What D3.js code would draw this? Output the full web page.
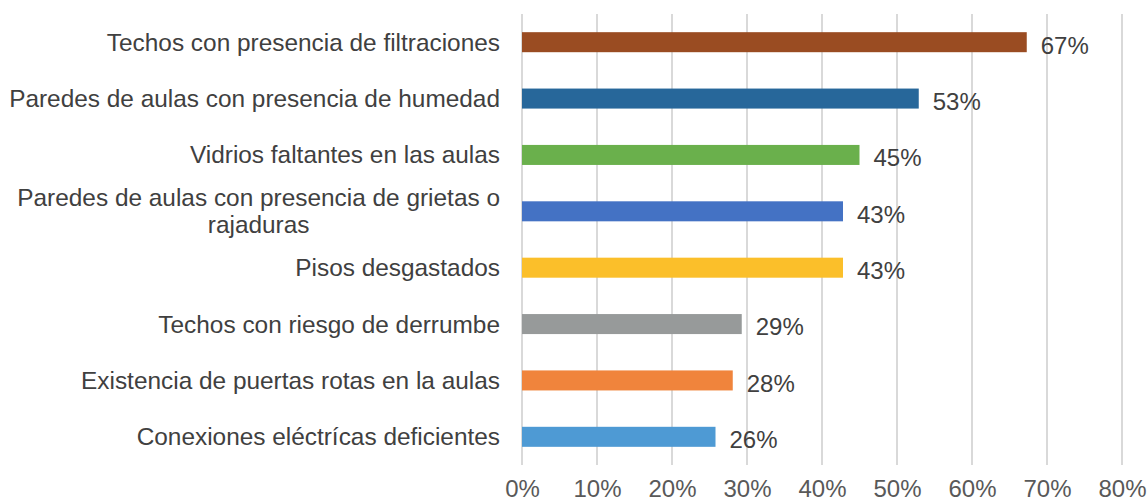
<!DOCTYPE html>
<html><head><meta charset="utf-8">
<script src="https://cdn.jsdelivr.net/npm/d3@7"></script>
<style>body{margin:0;background:#fff}svg{display:block;font-family:"Liberation Sans",Arial,sans-serif}</style>
</head><body><svg id="c" width="1148" height="503"></svg>
<script>
const categories = [
  ["Techos con presencia de filtraciones"],
  ["Paredes de aulas con presencia de humedad"],
  ["Vidrios faltantes en las aulas"],
  ["Paredes de aulas con presencia de grietas o","rajaduras"],
  ["Pisos desgastados"],
  ["Techos con riesgo de derrumbe"],
  ["Existencia de puertas rotas en la aulas"],
  ["Conexiones eléctrícas deficientes"]
];
const values = [67.3, 52.9, 45.0, 42.8, 42.8, 29.3, 28.1, 25.8];
const valueLabels = ["67%","53%","45%","43%","43%","29%","28%","26%"];
const colors = ["#9A4C22","#27679A","#6AB04C","#4472C4","#FBBF2A","#979A9A","#F0843C","#4E9AD4"];
const xTicks = [0,10,20,30,40,50,60,70,80];

const FS = 24;
const svg = d3.select("#c");
const x = d3.scaleLinear().domain([0,80]).range([522,1122]);
const y = d3.scaleBand().domain(d3.range(categories.length)).range([14,465]).paddingInner(0.645).paddingOuter(0.3225);

// gridlines
svg.append("g").selectAll("line").data(xTicks).join("line")
  .attr("x1",d=>x(d)).attr("x2",d=>x(d)).attr("y1",14).attr("y2",465)
  .attr("stroke","#d9d9d9").attr("stroke-width",2);

// x axis labels
const xa = svg.append("g").attr("transform","translate(0,465)")
  .call(d3.axisBottom(x).tickValues(xTicks).tickFormat(d=>d+"%").tickSize(0).tickPadding(15));
xa.select(".domain").remove();
xa.selectAll("text").attr("font-size",FS).attr("fill","#595959").attr("font-family","Liberation Sans, Arial, sans-serif");

// bars
svg.append("g").selectAll("rect").data(values).join("rect")
  .attr("x",x(0)).attr("y",(d,i)=>y(i)).attr("width",d=>x(d)-x(0)).attr("height",y.bandwidth())
  .attr("fill",(d,i)=>colors[i]);

// value labels
svg.append("g").selectAll("text").data(values).join("text")
  .attr("x",d=>x(d)+14).attr("y",(d,i)=>y(i)+y.bandwidth()/2+3).attr("dy","0.35em")
  .attr("font-size",FS).attr("fill","#404040").text((d,i)=>valueLabels[i]);

// category labels
const CFS = 24.4;
const cg = svg.append("g");
categories.forEach((lines,i)=>{
  const cy = y(i)+y.bandwidth()/2;
  const lh = 27;
  const t = cg.append("text").attr("font-size",CFS).attr("fill","#404040");
  if(lines.length===1){
    t.attr("x",500).attr("y",cy).attr("dy","0.35em").attr("text-anchor","end").text(lines[0]);
  } else {
    const tmp = cg.append("text").attr("font-size",CFS).text(lines[0]);
    const w = tmp.node().getComputedTextLength(); tmp.remove();
    const cx = 500 - w/2;
    lines.forEach((ln,k)=>{
      t.append("tspan").attr("x",cx).attr("text-anchor","middle")
        .attr("y",cy + (k-(lines.length-1)/2)*lh).attr("dy","0.35em").text(ln);
    });
  }
});
</script></body></html>
